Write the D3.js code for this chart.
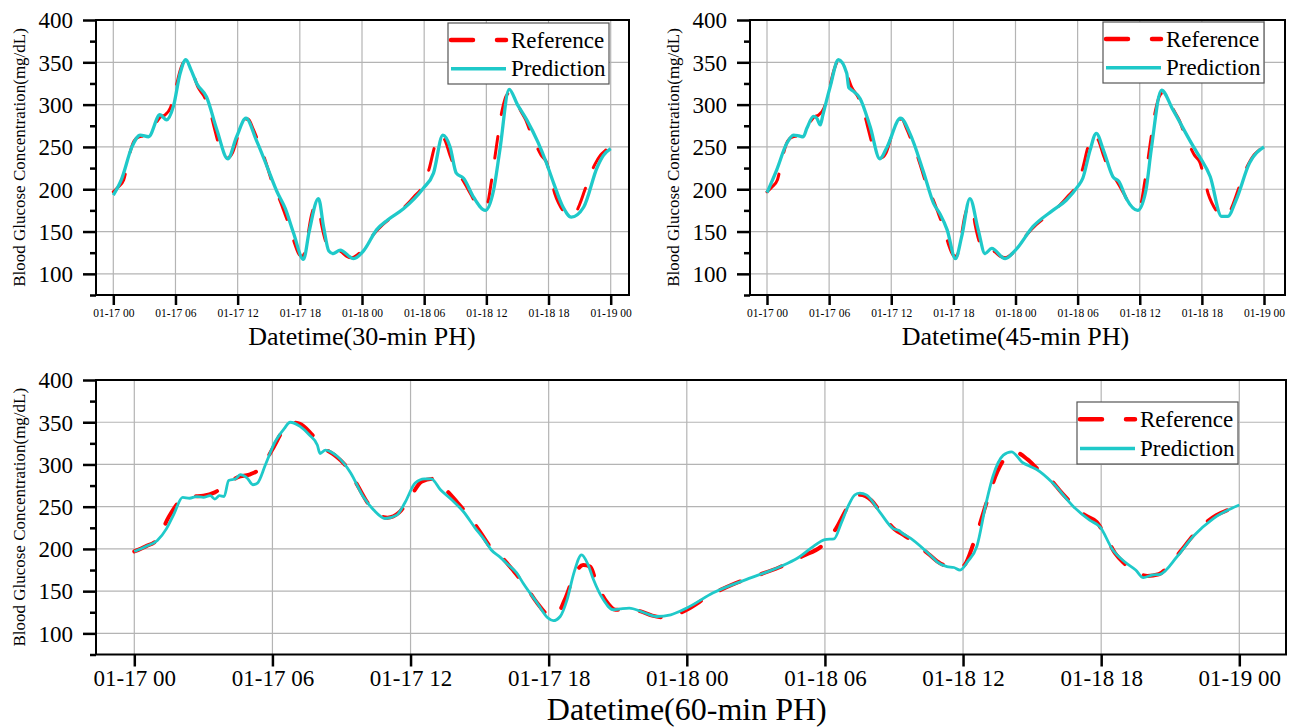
<!DOCTYPE html>
<html><head><meta charset="utf-8">
<script src="https://cdn.jsdelivr.net/npm/d3@7"></script>
<style>
body{margin:0;background:#fff}
svg{display:block}
svg text{font-family:"Liberation Serif","DejaVu Serif","Times New Roman",serif !important;fill:#000}
</style>
</head><body><svg id="c" width="1298" height="728"></svg>
<script>
// ---------------- DATA ----------------
const seriesNames = ["Reference", "Prediction"];
const panelTitles = ["Datetime(30-min PH)", "Datetime(45-min PH)", "Datetime(60-min PH)"];
const yAxisTitle = "Blood Glucose Concentration(mg/dL)";
const xTickHours = [0, 6, 12, 18, 24, 30, 36, 42, 48];
const yTicks = [100, 150, 200, 250, 300, 350, 400];
const yMinorTicks = [75, 125, 175, 225, 275, 325, 375];
const yDomain = [75, 400];

// Reference (measured) glucose, hours after 01-17 00:00
const refHours = [0,0.5,1,1.5,2,2.5,3,3.5,4,4.5,5,5.5,6,6.5,6.8,7.2,7.7,8.2,8.7,9.2,9.7,10.2,10.7,11,11.5,12,12.5,13,13.5,14,14.5,15,15.5,16,16.5,17,17.5,18,18.3,18.7,19.1,19.5,19.8,20.1,20.5,20.9,21.5,22,22.5,23,23.5,24,25,26,27,28,29,30,30.5,31,31.5,32,32.5,33,33.5,34,34.5,35,35.5,36,36.5,37,37.5,38,38.3,38.8,39.3,39.8,40.3,40.8,41.3,41.8,42.2,42.6,43,43.5,44,44.5,45,45.5,46,46.5,47,47.5,48];
const refValues = [197,203,211,238,257,262,263,267,276,285,288,296,318,342,350,348,336,320,311,298,275,252,239,237,243,262,280,283,271,256,240,221,201,189,173,156,136,122,121,140,168,181,179,158,138,128,129,126,121,119,122,128,145,158,168,178,191,207,225,250,264,258,240,224,215,205,194,183,179,180,210,253,292,312,314,306,293,282,266,252,240,232,215,195,183,173,168,170,182,199,216,230,240,246,251];

// 30-min PH prediction
const pred30Hours = [0,0.8,1.8,2.6,3.4,4.5,5.15,5.8,6.45,7,7.5,8.05,9,10,11.05,11.9,12.8,13.8,14.8,15.8,16.6,17.4,18.35,18.9,19.8,20.3,20.8,21.2,21.9,23.2,24.2,25.4,26.5,28,29.9,30.9,31.8,32.5,33.1,33.8,34.8,35.9,36.7,37.3,38.2,39,39.9,41,41.8,42.5,43.4,44.2,45.4,46.7,47.3,48];
const pred30Values = [193,212,250,264,262,288,282,298,337,353,341,325,309,270,236,262,284,258,228,197,177,148,117,150,189,155,127,124,128,118,128,152,164,177,201,219,264,250,219,213,190,175,199,246,318,300,282,255,231,207,179,167,179,226,240,248];

// 45-min PH prediction
const pred45Hours = [0,0.94,1.9,2.56,3.1,3.5,3.85,4.5,4.8,5.15,5.4,6.1,6.9,7.7,7.9,8.1,9,9.96,10.9,11.6,12.9,13.8,15.1,16.1,16.7,17.4,18.2,18.8,19.6,20.4,21.05,21.7,23,24,25.7,27.6,28.9,30,30.5,31.2,31.8,32.5,33.4,34,34.7,35.8,36.6,37.1,38.1,39.2,41.2,41.8,42.8,43.9,44.5,45.3,46.6,48];
const pred45Values = [196,223,254,264,263,262,272,286,284,276,288,321,353,337,320,318,307,274,236,250,284,266,221,183,171,152,118,144,189,152,124,130,118,128,156,175,187,203,213,246,266,246,215,209,189,175,199,246,317,294,250,238,215,168,168,187,231,250];

// 60-min PH prediction
const pred60Hours = [0,0.5,1,1.4,1.7,2.1,2.4,2.7,3,3.3,3.5,3.7,3.9,4.1,4.4,4.6,4.9,5.15,5.35,5.7,6.1,6.5,6.77,7.2,7.6,7.95,8.07,8.3,8.8,9.4,9.94,10.4,10.9,11.4,11.76,12.2,12.6,12.9,13.3,13.8,14.3,14.8,15.2,15.5,15.9,16.25,16.6,16.9,17.5,17.98,18.2,18.5,18.8,19.1,19.43,19.7,19.94,20.37,20.8,21.1,21.5,22.1,22.7,23.3,24,25.15,26.6,28.05,28.8,29.5,30,30.4,30.7,31,31.3,31.52,31.8,32.4,32.97,33.2,33.4,33.7,34.4,34.6,34.86,35.3,35.6,35.87,36.2,36.6,37,37.3,37.75,38.1,38.6,38.9,39.2,39.9,40.8,41.5,41.95,42.5,43.1,43.5,43.83,44.2,44.56,45.3,46,46.87,48];
const pred60Values = [197,203,210,224,240,261,260,262,261,263,259,263,262,281,283,288,284,276,278,300,326,342,350,345,335,323,313,317,310,290,262,246,236,240,255,278,283,283,270,258,244,225,211,199,190,181,172,159,136,118,115,120,140,172,193,182,164,140,128,129,130,125,120,122,130,148,164,179,189,203,211,212,230,250,264,266,264,243,224,222,218,213,197,192,185,179,178,175,185,203,254,286,311,315,302,298,294,278,250,234,226,199,183,175,166,169,170,191,215,236,252];

// ---------------- LAYOUT ----------------
const FONT = "'Liberation Serif','DejaVu Serif','Times New Roman',serif";
const startDate = new Date(2018, 0, 17, 0, 0, 0);
const toDate = h => new Date(startDate.getTime() + h * 3600 * 1000);
const fmt = d3.timeFormat("%m-%d %H");
const refColor = "#ff0000", predColor = "#1fc9c9";

const panels = [
  { predH: pred30Hours, predV: pred30Values, title: panelTitles[0],
    left: 96, right: 629, top: 20, bottom: 295, x0: 113.3, x48: 610.7,
    yTickFont: 23, xTickFont: 11.5, xTickLen: 10, xTickDy: 19,
    xTitleFont: 26, xTitleY: 345, yTitleFont: 17, yTitleX: 25,
    refW: 3, predW: 3.3, legend: { x: 448, y: 23, w: 161, h: 61, font: 23 } },
  { predH: pred45Hours, predV: pred45Values, title: panelTitles[1],
    left: 750, right: 1285, top: 20, bottom: 295, x0: 767, x48: 1264,
    yTickFont: 23, xTickFont: 11.5, xTickLen: 10, xTickDy: 19,
    xTitleFont: 26, xTitleY: 345, yTitleFont: 17, yTitleX: 679,
    refW: 3, predW: 3.3, legend: { x: 1103, y: 22, w: 161, h: 61, font: 23 } },
  { predH: pred60Hours, predV: pred60Values, title: panelTitles[2],
    left: 96, right: 1286, top: 380, bottom: 654.5, x0: 134.3, x48: 1239.3,
    yTickFont: 23, xTickFont: 23, xTickLen: 12, xTickDy: 26,
    xTitleFont: 32, xTitleY: 720, yTitleFont: 17, yTitleX: 25,
    refW: 4, predW: 2.8, legend: { x: 1077, y: 402, w: 161, h: 62, font: 23 } }
];

const svg = d3.select("#c");

panels.forEach(p => {
  const g = svg.append("g");
  const x = d3.scaleTime().domain([toDate(0), toDate(48)]).range([p.x0, p.x48]);
  const y = d3.scaleLinear().domain(yDomain).range([p.bottom, p.top]);

  // grid
  g.append("g").selectAll("line").data(xTickHours).join("line")
    .attr("x1", h => x(toDate(h))).attr("x2", h => x(toDate(h)))
    .attr("y1", p.top).attr("y2", p.bottom)
    .attr("stroke", "#b4b4b4").attr("stroke-width", 1.2);
  g.append("g").selectAll("line").data(yTicks.filter(v => v < yDomain[1])).join("line")
    .attr("x1", p.left).attr("x2", p.right)
    .attr("y1", v => y(v)).attr("y2", v => y(v))
    .attr("stroke", "#b4b4b4").attr("stroke-width", 1.2);

  // lines
  const line = d3.line().x(d => x(toDate(d[0]))).y(d => y(d[1])).curve(d3.curveMonotoneX);
  const refData = refHours.map((h, i) => [h, refValues[i]]);
  const predData = p.predH.map((h, i) => [h, p.predV[i]]);
  g.append("path").datum(refData).attr("d", line)
    .attr("fill", "none").attr("stroke", refColor).attr("stroke-width", p.refW)
    .attr("stroke-dasharray", "22,22").attr("stroke-linecap", "round");
  g.append("path").datum(predData).attr("d", line)
    .attr("fill", "none").attr("stroke", predColor).attr("stroke-width", p.predW)
    .attr("stroke-linejoin", "round");

  // frame
  g.append("rect").attr("x", p.left).attr("y", p.top)
    .attr("width", p.right - p.left).attr("height", p.bottom - p.top)
    .attr("fill", "none").attr("stroke", "#000").attr("stroke-width", 2);

  // x axis
  const xa = g.append("g").attr("transform", `translate(0,${p.bottom})`)
    .call(d3.axisBottom(x).tickValues(xTickHours.map(toDate)).tickFormat(fmt)
      .tickSize(p.xTickLen).tickPadding(3));
  xa.select(".domain").remove();
  xa.attr("font-family", FONT).attr("font-size", null);
  xa.selectAll(".tick line").attr("stroke", "#000").attr("stroke-width", 2.5);
  xa.selectAll(".tick text").attr("font-family", FONT).attr("font-size", p.xTickFont)
    .attr("y", null).attr("dy", null).attr("transform", `translate(0,${p.xTickDy})`)
    .attr("dominant-baseline", "middle");

  // y axis major
  const ya = g.append("g").attr("transform", `translate(${p.left},0)`)
    .call(d3.axisLeft(y).tickValues(yTicks).tickSize(13).tickPadding(10));
  ya.select(".domain").remove();
  ya.attr("font-family", FONT).attr("font-size", null);
  ya.selectAll(".tick line").attr("stroke", "#000").attr("stroke-width", 2.5);
  ya.selectAll(".tick text").attr("font-family", FONT).attr("font-size", p.yTickFont).attr("dy", "0.34em");
  // y axis minor
  const ym = g.append("g").attr("transform", `translate(${p.left},0)`)
    .call(d3.axisLeft(y).tickValues(yMinorTicks).tickSize(6).tickFormat(""));
  ym.select(".domain").remove();
  ym.selectAll(".tick line").attr("stroke", "#000").attr("stroke-width", 2.5);

  // axis titles
  g.append("text").attr("x", (p.x0 + p.x48) / 2)
    .attr("y", p.xTitleY).attr("text-anchor", "middle").attr("font-family", FONT)
    .attr("font-size", p.xTitleFont).text(p.title);
  g.append("text").attr("transform", `translate(${p.yTitleX},${(p.top + p.bottom) / 2}) rotate(-90)`)
    .attr("text-anchor", "middle").attr("font-family", FONT)
    .attr("font-size", p.yTitleFont).text(yAxisTitle);

  // legend
  const L = p.legend;
  const lg = g.append("g");
  lg.append("rect").attr("x", L.x).attr("y", L.y).attr("width", L.w).attr("height", L.h)
    .attr("fill", "#fff").attr("stroke", "#555").attr("stroke-width", 1.2);
  const rows = [L.y + L.h * 0.28, L.y + L.h * 0.75];
  seriesNames.forEach((name, i) => {
    const ly = rows[i];
    lg.append("line").attr("x1", L.x + 3).attr("x2", L.x + 58).attr("y1", ly).attr("y2", ly)
      .attr("stroke", i === 0 ? refColor : predColor)
      .attr("stroke-width", i === 0 ? 4.5 : 3.5)
      .attr("stroke-dasharray", i === 0 ? "22,24" : null)
      .attr("stroke-linecap", i === 0 ? "round" : "butt");
    lg.append("text").attr("x", L.x + 63).attr("y", ly).attr("dy", "0.33em")
      .attr("font-family", FONT).attr("font-size", L.font).text(name);
  });
});
</script>
</body></html>
